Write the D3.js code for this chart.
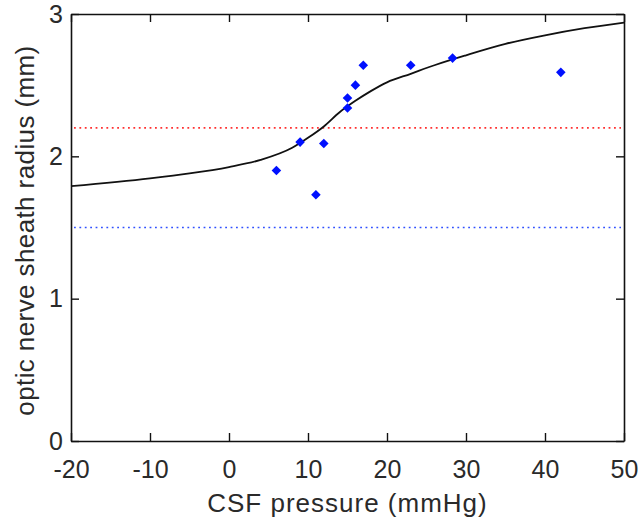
<!DOCTYPE html>
<html>
<head>
<meta charset="utf-8">
<script src="https://cdn.jsdelivr.net/npm/d3@7"></script>
<style>
  body { margin: 0; background: #fff; }
  svg text { font-family: "Liberation Sans", Arial, sans-serif; fill: #2a2a2a; }
</style>
</head>
<body>
<div id="svg-container"></div>
<script>
// data
const pressure = [6, 9, 11, 12, 15, 15, 16, 17, 23, 28.3, 42];
const radius = [1.9, 2.1, 1.73, 2.09, 2.34, 2.41, 2.5, 2.64, 2.64, 2.69, 2.59];

const fitX = [-20, -10, -5, 0, 4, 8, 10, 12, 14, 16, 18, 20, 23, 26, 30, 35, 40, 45, 50];
const fitY = [1.79, 1.845, 1.88, 1.925, 1.975, 2.06, 2.13, 2.21, 2.31, 2.39, 2.46, 2.52, 2.58, 2.64, 2.71, 2.79, 2.85, 2.9, 2.94];

const upperLimit = 2.2;
const lowerLimit = 1.5;

const xTicks = [-20, -10, 0, 10, 20, 30, 40, 50];
const yTicks = [0, 1, 2, 3];

////////////////////////////  Init  ///////////////////////////////
const width = 639, height = 519;
const margin = { top: 14, right: 15, bottom: 78, left: 71 };

const svg = d3.select("#svg-container").append("svg")
  .attr("width", width).attr("height", height);

const xScale = d3.scaleLinear()
  .domain([-20, 50])
  .range([margin.left, width - margin.right]);
const yScale = d3.scaleLinear()
  .domain([0, 3])
  .range([height - margin.bottom, margin.top]);

// limit lines
svg.append("line")
  .attr("x1", xScale(-20) + 3).attr("x2", xScale(50) - 3)
  .attr("y1", yScale(upperLimit)).attr("y2", yScale(upperLimit))
  .attr("stroke", "#ff3030").attr("stroke-width", 1.6)
  .attr("stroke-dasharray", "1.8,3.6");
svg.append("line")
  .attr("x1", xScale(-20) + 3).attr("x2", xScale(50) - 3)
  .attr("y1", yScale(lowerLimit)).attr("y2", yScale(lowerLimit))
  .attr("stroke", "#3050ff").attr("stroke-width", 1.6)
  .attr("stroke-dasharray", "1.8,3.6");

// fitted curve
const line = d3.line()
  .curve(d3.curveMonotoneX)
  .x((d, i) => xScale(d))
  .y((d, i) => yScale(fitY[i]));
svg.append("path")
  .datum(fitX)
  .attr("d", line)
  .attr("fill", "none")
  .attr("stroke", "#111")
  .attr("stroke-width", 1.8);

// measurements (diamonds = rotated squares)
svg.selectAll(".pt")
  .data(pressure)
  .join("path")
  .attr("class", "pt")
  .attr("d", d3.symbol(d3.symbolSquare, 46))
  .attr("transform", (d, i) => `translate(${xScale(d)},${yScale(radius[i])}) rotate(45)`)
  .attr("fill", "#0010ff");

// axes (ticks inside, mirrored box)
const tick = 8;
const fmt = (d) => String(d);
svg.append("g")
  .attr("transform", `translate(0,${height - margin.bottom})`)
  .call(d3.axisBottom(xScale).tickValues(xTicks).tickSize(-tick).tickPadding(19).tickFormat(fmt).tickSizeOuter(0));
svg.append("g")
  .attr("transform", `translate(0,${margin.top})`)
  .call(d3.axisTop(xScale).tickValues(xTicks).tickSize(-tick).tickFormat("").tickSizeOuter(0));
svg.append("g")
  .attr("transform", `translate(${margin.left},0)`)
  .call(d3.axisLeft(yScale).tickValues(yTicks).tickSize(-tick).tickPadding(8).tickFormat(fmt).tickSizeOuter(0));
svg.append("g")
  .attr("transform", `translate(${width - margin.right},0)`)
  .call(d3.axisRight(yScale).tickValues(yTicks).tickSize(-tick).tickFormat("").tickSizeOuter(0));

svg.selectAll(".domain").attr("stroke", "#111").attr("stroke-width", 1.6);
svg.selectAll(".tick line").attr("stroke", "#111").attr("stroke-width", 1.4);
svg.selectAll(".tick text").attr("font-size", 25).attr("fill", "#2a2a2a")
  .attr("font-family", "'Liberation Sans', Arial, sans-serif");

// labels
svg.append("text")
  .attr("x", (margin.left + width - margin.right) / 2)
  .attr("y", 512)
  .attr("text-anchor", "middle")
  .attr("font-size", 26)
  .attr("letter-spacing", 1)
  .text("CSF pressure (mmHg)");
svg.append("text")
  .attr("transform", `translate(34,${(margin.top + height - margin.bottom) / 2 + 3}) rotate(-90)`)
  .attr("text-anchor", "middle")
  .attr("font-size", 26)
  .attr("letter-spacing", 0.4)
  .text("optic nerve sheath radius (mm)");
</script>
</body>
</html>
